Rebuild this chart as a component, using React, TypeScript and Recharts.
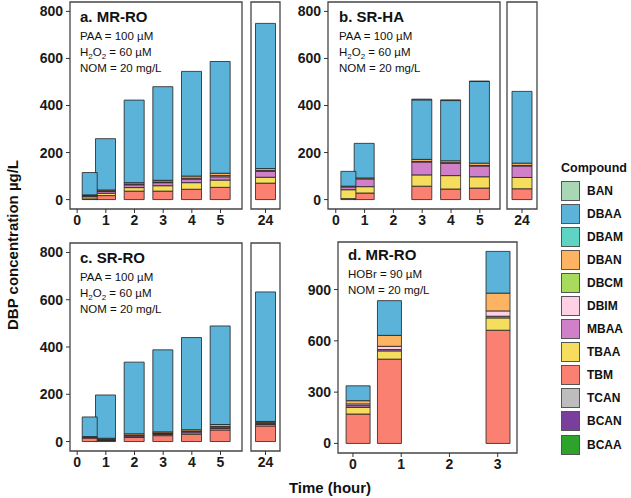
import React from 'react';
import { BarChart, Bar, XAxis, YAxis, ReferenceArea } from 'recharts';

// legend order; ggplot stacks the first level on top
const compounds = ['BAN', 'DBAA', 'DBAM', 'DBAN', 'DBCM', 'DBIM', 'MBAA', 'TBAA', 'TBM', 'TCAN', 'BCAN', 'BCAA'];
const colors: Record<string, string> = {
  BAN: '#a9d6b4',
  DBAA: '#5bb3d9',
  DBAM: '#5fd4c5',
  DBAN: '#fdb462',
  DBCM: '#a6db5c',
  DBIM: '#fdd0e6',
  MBAA: '#d07fc9',
  TBAA: '#f5de5e',
  TBM: '#fa8072',
  TCAN: '#bdbdbd',
  BCAN: '#7a3f9d',
  BCAA: '#2ea32c',
};
const stackOrder = [...compounds].reverse();

// a. MR-RO, PAA 100 uM + H2O2 60 uM
const hoursA = [0.42, 1, 2, 3, 4, 5, 24];
const mrRoPaa: Record<string, number[]> = {
  TBM: [3, 17, 36, 36, 44, 52, 70],
  TBAA: [9, 10, 15, 23, 28, 31, 25],
  MBAA: [4, 8, 12, 13, 15, 14, 25],
  DBIM: [1, 2, 3, 3, 4, 5, 4],
  DBAN: [3, 4, 6, 7, 9, 10, 8],
  DBAA: [95, 218, 351, 398, 445, 475, 617],
};

// b. SR-HA
const hoursB = [0.42, 1, 3, 4, 5, 24];
const srHa: Record<string, number[]> = {
  TBM: [4, 28, 57, 45, 49, 46],
  TBAA: [38, 27, 48, 57, 48, 48],
  MBAA: [12, 33, 55, 53, 46, 49],
  DBIM: [0, 0, 2, 2, 2, 2],
  DBAN: [3, 4, 9, 8, 10, 10],
  DBAA: [63, 147, 253, 256, 347, 305],
  BAN: [0, 0, 3, 3, 2, 0],
};

// c. SR-RO
const hoursC = [0.42, 1, 2, 3, 4, 5, 24];
const srRo: Record<string, number[]> = {
  TBM: [15, 4, 18, 25, 31, 49, 66],
  TBAA: [0, 2, 2, 5, 6, 6, 6],
  MBAA: [2, 2, 5, 4, 5, 6, 5],
  DBIM: [0, 2, 2, 2, 2, 3, 3],
  DBAN: [4, 4, 6, 5, 6, 8, 5],
  DBAA: [83, 183, 303, 347, 390, 417, 548],
};

// d. MR-RO, HOBr 90 uM
const hoursD = [0.1, 0.75, 3];
const mrRoHobr: Record<string, number[]> = {
  TBM: [172, 493, 662],
  TBAA: [39, 48, 72],
  MBAA: [10, 8, 10],
  DBIM: [10, 19, 31],
  DBAN: [19, 64, 104],
  DBAA: [87, 203, 244],
};

const paaTicks = [0, 200, 400, 600, 800];
const hobrTicks = [0, 300, 600, 900];
const hourTicks = [0, 1, 2, 3, 4, 5];

type Row = { t: number; [k: string]: number };

const toRows = (hours: number[], series: Record<string, number[]>): Row[] =>
  hours.map((t, i) => {
    const row: Row = { t };
    compounds.forEach((c) => {
      row[c] = series[c] ? series[c][i] : 0;
    });
    return row;
  });

const font = '"Liberation Sans", Arial, sans-serif';
const tickStyle = { fill: '#1a1a1a', fontSize: 14, fontWeight: 'bold', fontFamily: font };

type PanelProps = {
  left: number;
  top: number;
  w: number;
  h: number;
  rows: Row[];
  xDomain: [number, number];
  xTicks: number[];
  yDomain: [number, number];
  yTicks?: number[];
  barSize: number;
  bare?: boolean; // bars only, laid over a framed panel with the same plot box
};

const Panel = ({ left, top, w, h, rows, xDomain, xTicks, yDomain, yTicks, barSize, bare }: PanelProps) => {
  const yw = yTicks ? 46 : 3;
  const xh = 26;
  const pad = 3;
  return (
    <div style={{ position: 'absolute', left: left - yw, top: top - pad }}>
      <BarChart
        width={w + yw + pad}
        height={h + pad + xh}
        data={rows}
        margin={{ top: pad, right: pad, bottom: bare ? xh : 0, left: bare || !yTicks ? yw : 0 }}
      >
        <XAxis
          type="number"
          dataKey="t"
          domain={xDomain}
          ticks={xTicks}
          interval={0}
          allowDataOverflow
          hide={bare}
          axisLine={false}
          tickSize={4}
          tickLine={{ stroke: '#333' }}
          tick={tickStyle}
          tickMargin={2}
          height={xh}
        />
        <YAxis
          type="number"
          domain={yDomain}
          ticks={yTicks}
          interval={0}
          allowDataOverflow
          hide={bare || !yTicks}
          axisLine={false}
          tickSize={4}
          tickLine={{ stroke: '#333' }}
          tick={tickStyle}
          tickMargin={3}
          width={yw}
        />
        {stackOrder.map((c) => (
          <Bar
            key={c}
            dataKey={c}
            stackId="s"
            fill={colors[c]}
            stroke="#222"
            strokeWidth={0.8}
            barSize={barSize}
            isAnimationActive={false}
          />
        ))}
        {!bare && (
          <ReferenceArea
            x1={xDomain[0]}
            x2={xDomain[1]}
            y1={yDomain[0]}
            y2={yDomain[1]}
            fill="none"
            stroke="#454545"
            strokeWidth={1.3}
            ifOverflow="visible"
          />
        )}
      </BarChart>
    </div>
  );
};

const Note = ({ x, y, title, lines }: { x: number; y: number; title: string; lines: React.ReactNode[] }) => (
  <div style={{ position: 'absolute', left: x, top: y, fontFamily: font, color: '#111' }}>
    <div style={{ fontWeight: 'bold', fontSize: 15, lineHeight: '18px', marginBottom: 2 }}>{title}</div>
    {lines.map((l, i) => (
      <div key={i} style={{ fontSize: 11.5, lineHeight: '16px', height: 16 }}>
        {l}
      </div>
    ))}
  </div>
);

const subStyle: React.CSSProperties = { fontSize: 8, lineHeight: 0, verticalAlign: 'sub' };
const h2o2 = (
  <span>
    H<sub style={subStyle}>2</sub>O<sub style={subStyle}>2</sub> = 60 µM
  </span>
);

export default function App() {
  const rowsA = toRows(hoursA, mrRoPaa);
  const rowsB = toRows(hoursB, srHa);
  const rowsC = toRows(hoursC, srRo);
  const rowsD = toRows(hoursD, mrRoHobr);
  // the first sample sits tight against the 1 h bar and is drawn narrower
  const first = (r: Row, i: number) => i === 0;
  const hourly = (r: Row, i: number) => i > 0 && r.t < 10;
  const late = (r: Row) => r.t >= 10;
  const paaDomain: [number, number] = [-40, 840];
  const hoursDomain: [number, number] = [-0.25, 5.75];
  const hoursDomainB: [number, number] = [-0.27, 5.7];
  const dayDomain: [number, number] = [23.5, 24.5];

  return (
    <div style={{ position: 'absolute', left: 0, top: 0, width: 631, height: 498, background: '#fff', fontFamily: font }}>
      {/* a */}
      <Panel left={70} top={2} w={172} h={207} rows={rowsA.filter(hourly)} xDomain={hoursDomain} xTicks={hourTicks} yDomain={paaDomain} yTicks={paaTicks} barSize={20} />
      <Panel left={70} top={2} w={172} h={207} rows={rowsA.filter(first)} xDomain={hoursDomain} xTicks={hourTicks} yDomain={paaDomain} yTicks={paaTicks} barSize={15} bare />
      <Panel left={251} top={2} w={29} h={207} rows={rowsA.filter(late)} xDomain={dayDomain} xTicks={[24]} yDomain={paaDomain} barSize={20} />
      {/* b */}
      <Panel left={328} top={2} w={172} h={207} rows={rowsB.filter(hourly)} xDomain={hoursDomainB} xTicks={hourTicks} yDomain={paaDomain} yTicks={paaTicks} barSize={20} />
      <Panel left={328} top={2} w={172} h={207} rows={rowsB.filter(first)} xDomain={hoursDomainB} xTicks={hourTicks} yDomain={paaDomain} yTicks={paaTicks} barSize={15} bare />
      <Panel left={507} top={2} w={30} h={207} rows={rowsB.filter(late)} xDomain={dayDomain} xTicks={[24]} yDomain={paaDomain} barSize={20} />
      {/* c */}
      <Panel left={70} top={243} w={172} h={208} rows={rowsC.filter(hourly)} xDomain={hoursDomain} xTicks={hourTicks} yDomain={paaDomain} yTicks={paaTicks} barSize={20} />
      <Panel left={70} top={243} w={172} h={208} rows={rowsC.filter(first)} xDomain={hoursDomain} xTicks={hourTicks} yDomain={paaDomain} yTicks={paaTicks} barSize={15} bare />
      <Panel left={251} top={243} w={29} h={208} rows={rowsC.filter(late)} xDomain={dayDomain} xTicks={[24]} yDomain={paaDomain} barSize={20} />
      {/* d */}
      <Panel left={338} top={242} w={179} h={211} rows={rowsD} xDomain={[-0.31, 3.4]} xTicks={[0, 1, 2, 3]} yDomain={[-56, 1178]} yTicks={hobrTicks} barSize={24} />

      <Note x={80} y={8} title="a. MR-RO" lines={['PAA = 100 µM', h2o2, 'NOM = 20 mg/L']} />
      <Note x={339} y={8} title="b. SR-HA" lines={['PAA = 100 µM', h2o2, 'NOM = 20 mg/L']} />
      <Note x={80} y={249} title="c. SR-RO" lines={['PAA = 100 µM', h2o2, 'NOM = 20 mg/L']} />
      <Note x={348} y={246} title="d. MR-RO" lines={['HOBr = 90 µM', 'NOM = 20 mg/L']} />

      {/* axis titles */}
      <div
        style={{
          position: 'absolute',
          left: 12,
          top: 245,
          transform: 'translate(-50%, -50%) rotate(-90deg)',
          whiteSpace: 'nowrap',
          fontWeight: 'bold',
          fontSize: 15,
          color: '#111',
        }}
      >
        DBP concentration µg/L
      </div>
      <div
        style={{
          position: 'absolute',
          left: 330,
          top: 487,
          transform: 'translate(-50%, -50%)',
          whiteSpace: 'nowrap',
          fontWeight: 'bold',
          fontSize: 15,
          color: '#111',
        }}
      >
        Time (hour)
      </div>

      {/* legend */}
      <div style={{ position: 'absolute', left: 561, top: 161 }}>
        <div style={{ fontWeight: 'bold', fontSize: 12.5, color: '#111', marginBottom: 4 }}>Compound</div>
        {compounds.map((c) => (
          <div key={c} style={{ display: 'flex', alignItems: 'center', height: 23.1 }}>
            <div style={{ width: 19, height: 20, background: colors[c], border: '1px solid #555', boxSizing: 'border-box' }} />
            <span style={{ marginLeft: 7, fontWeight: 'bold', fontSize: 12, color: '#111' }}>{c}</span>
          </div>
        ))}
      </div>
    </div>
  );
}
